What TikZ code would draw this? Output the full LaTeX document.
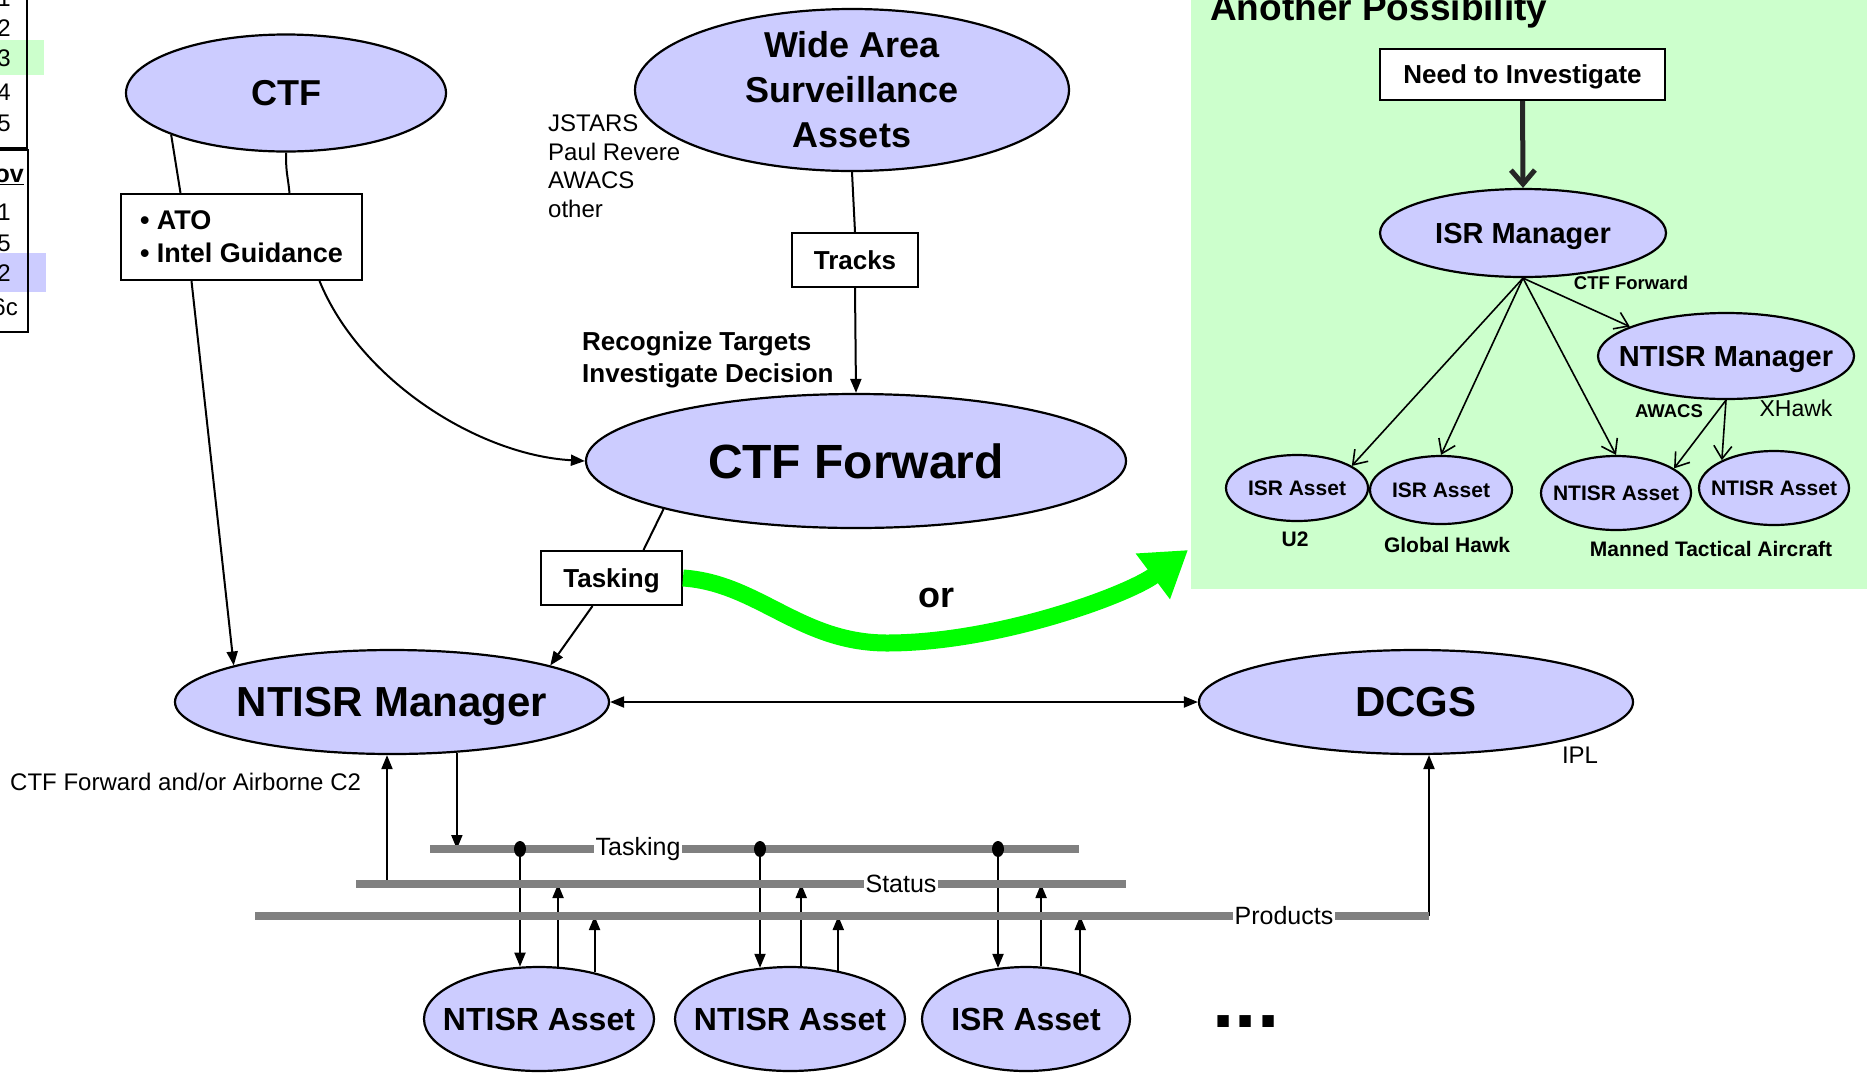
\documentclass[tikz,border=0pt]{standalone}
\usepackage{fontspec}
\setmainfont{Liberation Sans}
\usetikzlibrary{arrows.meta,positioning,calc,shapes.geometric}
\definecolor{lav}{HTML}{CCCCFF}
\definecolor{mint}{HTML}{CCFFCC}
\definecolor{busgray}{HTML}{808080}
\definecolor{brightgreen}{HTML}{00FF00}

\begin{document}
\begin{tikzpicture}[x=1pt, y=-1pt,
    every node/.style={inner sep=0pt},
    ell/.style={ellipse, draw, line width=2.2pt, fill=lav},
    box/.style={rectangle, draw, line width=2pt, fill=white},
    con/.style={line width=2pt},
    arr/.style={con, -{Triangle[length=14pt,width=11pt]}},
    dblarr/.style={con, {Triangle[length=14pt,width=11pt]}-{Triangle[length=14pt,width=11pt]}},
    barb/.style={line width=1.6pt, -{Straight Barb[length=13pt,width=18pt]}},
    bus/.style={line width=8pt, busgray},
    f48b/.style={font=\fontsize{48pt}{56pt}\selectfont\bfseries, text depth=0pt},
    f42b/.style={font=\fontsize{42pt}{50pt}\selectfont\bfseries, text depth=0pt},
    f36b/.style={font=\fontsize{36pt}{45pt}\selectfont\bfseries},
    f32b/.style={font=\fontsize{32pt}{38pt}\selectfont\bfseries},
    f29b/.style={font=\fontsize{29pt}{35pt}\selectfont\bfseries, text depth=0pt},
    f27b/.style={font=\fontsize{27pt}{33pt}\selectfont\bfseries},
    f26b/.style={font=\fontsize{26pt}{32pt}\selectfont\bfseries},
    f21b/.style={font=\fontsize{21pt}{25pt}\selectfont\bfseries},
    f18b/.style={font=\fontsize{18.5pt}{22pt}\selectfont\bfseries},
    r24/.style={font=\fontsize{24pt}{28.5pt}\selectfont},
    buslbl/.style={fill=white, inner xsep=2pt, inner ysep=1pt, font=\fontsize{25pt}{30pt}\selectfont}]
    \useasboundingbox (0,0) rectangle (1867,1077);

    % cut-off table on the left edge
    \fill[mint] (0,40) rectangle (44,75);
    \fill[lav] (0,253) rectangle (46,292);
    \draw[con] (-5,148) -- (27,148) -- (27,-5);
    \draw[con] (-5,150) -- (28,150) -- (28,332) -- (-5,332);
    \foreach \d/\y [count=\i] in {1/-2, 2/28, 3/58, 4/92, 5/123, 1/212, 5/243, 2/273}
        \node[r24, anchor=east] (tab\i) at (11,\y) {\d};
    \node[font=\fontsize{25pt}{30pt}\selectfont\bfseries, anchor=east] (tabov) at (24,177) {\underline{ov}};
    \node[r24, anchor=east] (tabsc) at (18,307) {6c};

    % green panel
    \fill[mint] (1191,-5) rectangle (1872,589);
    \node[font=\fontsize{37pt}{44pt}\selectfont\bfseries, anchor=base west] (another) at (1210,20) {Another Possibility};

    % upper left
    \node[ell, minimum width=320pt, minimum height=117pt] (ctf) at (286,93) {};
    \node[f36b, text depth=0pt] (ctftxt) at (ctf) {CTF};
    \node[box, minimum width=241pt, minimum height=86pt, f27b, align=left] (ato) at (241.5,237)
        {\textbullet\ ATO\\\textbullet\ Intel Guidance};

    \node[ell, minimum width=434pt, minimum height=162pt] (wasa) at (852,90) {};
    \node[f36b, align=center] (wasatxt) at (wasa) {Wide Area\\Surveillance\\Assets};
    \node[r24, align=left, anchor=west] (jstars) at (548,166) {JSTARS\\Paul Revere\\AWACS\\other};
    \node[box, minimum width=126pt, minimum height=54pt, f26b] (tracks) at (855,260) {Tracks};
    \node[f26b, align=left, anchor=west] (recog) at (582,360) {Recognize Targets\\Investigate Decision};

    \node[ell, minimum width=540pt, minimum height=134pt] (ctffwd) at (856,461) {};
    \node[f48b] (ctffwdtxt) at (ctffwd) {CTF Forward};
    \node[box, minimum width=141pt, minimum height=54pt, f26b, text depth=0pt] (tasking) at (611.5,578) {Tasking};
    \node[f36b] (ortxt) at (936,598) {or};
    \coordinate (gdip) at (887,643);
    \coordinate (gtip) at (1188,550);

    \node[ell, minimum width=434pt, minimum height=104pt] (ntisrmgr) at (392,702) {};
    \node[f42b] (ntisrmgrtxt) at (ntisrmgr) {NTISR Manager};
    \node[ell, minimum width=434pt, minimum height=104pt] (dcgs) at (1416,702) {};
    \node[f42b] (dcgstxt) at (dcgs) {DCGS};
    \node[r24] (ipl) at (1580,755) {IPL};
    \node[r24, anchor=west] (c2txt) at (10,782) {CTF Forward and/or Airborne C2};

    % right panel
    \node[box, minimum width=285pt, minimum height=51pt, f26b, text depth=0pt] (need) at (1522.5,74.5) {Need to Investigate};
    \node[ell, minimum width=286pt, minimum height=88pt] (isrmgr) at (1523,233) {};
    \node[f29b] (isrmgrtxt) at (isrmgr) {ISR Manager};
    \node[ell, minimum width=256pt, minimum height=86pt] (ntisrmgrb) at (1726,356) {};
    \node[f29b] (ntisrmgrbtxt) at (ntisrmgrb) {NTISR Manager};
    \node[ell, minimum width=142pt, minimum height=66pt] (isra) at (1297,488) {};
    \node[f21b] (isratxt) at (isra) {ISR Asset};
    \node[ell, minimum width=142pt, minimum height=68pt] (isrb) at (1441,490) {};
    \node[f21b] (isrbtxt) at (isrb) {ISR Asset};
    \node[ell, minimum width=150pt, minimum height=74pt] (ntisra) at (1616,493) {};
    \node[f21b] (ntisratxt) at (ntisra) {NTISR Asset};
    \node[ell, minimum width=150pt, minimum height=74pt] (ntisrb) at (1774,488) {};
    \node[f21b] (ntisrbtxt) at (ntisrb) {NTISR Asset};
    \node[f18b] (ctffwdlbl) at (1631,283) {CTF Forward};
    \node[f18b] (awacs) at (1669,411) {AWACS};
    \node[font=\fontsize{23pt}{28pt}\selectfont] (xhawk) at (1796,408) {XHawk};
    \node[f21b] (u2) at (1295,539) {U2};
    \node[f21b] (ghawk) at (1447,545) {Global Hawk};
    \node[f21b] (manned) at (1711,549) {Manned Tactical Aircraft};

    % bottom assets
    \node[ell, minimum width=230pt, minimum height=104pt] (assetA) at (539,1019) {};
    \node[f32b] (assetAtxt) at (assetA) {NTISR Asset};
    \node[ell, minimum width=230pt, minimum height=104pt] (assetB) at (790,1019) {};
    \node[f32b] (assetBtxt) at (assetB) {NTISR Asset};
    \node[ell, minimum width=208pt, minimum height=104pt] (assetC) at (1026,1019) {};
    \node[f32b] (assetCtxt) at (assetC) {ISR Asset};
    \node[font=\fontsize{80pt}{90pt}\selectfont\bfseries] (more) at (1246,1022) {...};

    % connectors, upper left
    \draw[con] (ctf.200) -- ([xshift=-61pt]ato.north);
    \draw[con] (ctf.south) .. controls +(0,22) and +(-2,-20) .. ([xshift=48pt]ato.north);
    \draw[arr] ([xshift=-50pt]ato.south) -- (ntisrmgr.167);
    \draw[arr] ([xshift=78pt]ato.south) .. controls +(41,100) and +(-106,-6) .. (ctffwd.west);
    \draw[con] (wasa.south) -- (tracks.north);
    \draw[arr] (tracks.south) -- (ctffwd.north);
    \draw[con] (ctffwd.194) -- ([xshift=32pt]tasking.north);
    \draw[arr] ([xshift=-19pt]tasking.south) -- (ntisrmgr.13);
    \draw[dblarr] (ntisrmgr.east) -- (dcgs.west);

    % the "or" arrow
    \draw[line width=17pt, brightgreen, -{Triangle[length=44pt,width=54pt]}]
        (tasking.east) .. controls +(75,5) and +(-87,0) .. (gdip)
        .. controls +(110,0) and +(-60,45) .. (gtip);

    % connectors, right panel
    \draw[line width=5pt, black!85, -{Straight Barb[length=14pt,width=24pt]}] (need.south) -- (isrmgr.north);
    \draw[barb] (isrmgr.south) -- (isra.22);
    \draw[barb] (isrmgr.south) -- (isrb.north);
    \draw[barb] (isrmgr.south) -- (ntisra.north);
    \draw[barb] (isrmgr.south) -- (ntisrmgrb.163);
    \draw[barb] (ntisrmgrb.south) -- (ntisra.23);
    \draw[barb] (ntisrmgrb.south) -- (ntisrb.152);

    % buses
    \coordinate (tbw) at (430,849);
    \coordinate (tbe) at (1079,849);
    \coordinate (sbw) at (356,884);
    \coordinate (sbe) at (1126,884);
    \coordinate (pbw) at (255,916);
    \coordinate (pbe) at (1429,916);
    \coordinate (mup) at (387,884);
    \coordinate (dotA) at (520,849);
    \coordinate (dotB) at (760,849);
    \coordinate (dotC) at (998,849);

    \draw[arr] (mup) -- (mup |- ntisrmgr.south);
    \draw[arr] (ntisrmgr.-38) -- (ntisrmgr.-38 |- tbw);
    \draw[arr] (pbe) -- (pbe |- dcgs.-76);
    \draw[arr] (dotA) -- (dotA |- assetA.110);
    \draw[arr] (dotB) -- (dotB |- assetB.121);
    \draw[arr] (dotC) -- (dotC |- assetC.119);
    \draw[arr] (assetA.70) -- (assetA.70 |- sbw);
    \draw[arr] (assetB.78) -- (assetB.78 |- sbw);
    \draw[arr] (assetC.74) -- (assetC.74 |- sbw);
    \draw[arr] (assetA.40) -- (assetA.40 |- pbw);
    \draw[arr] (assetB.45) -- (assetB.45 |- pbw);
    \draw[arr] (assetC.40) -- (assetC.40 |- pbw);

    \draw[bus] (tbw) -- (tbe);
    \draw[bus] (sbw) -- (sbe);
    \draw[bus] (pbw) -- (pbe);
    \foreach \p in {dotA, dotB, dotC}
        \fill (\p) ellipse (6 and 8);
    \node[buslbl] (tbl) at (638,849) {Tasking};
    \node[buslbl] (sbl) at (901,884) {Status};
    \node[buslbl] (pbl) at (1284,916) {Products};
\end{tikzpicture}
\end{document}
